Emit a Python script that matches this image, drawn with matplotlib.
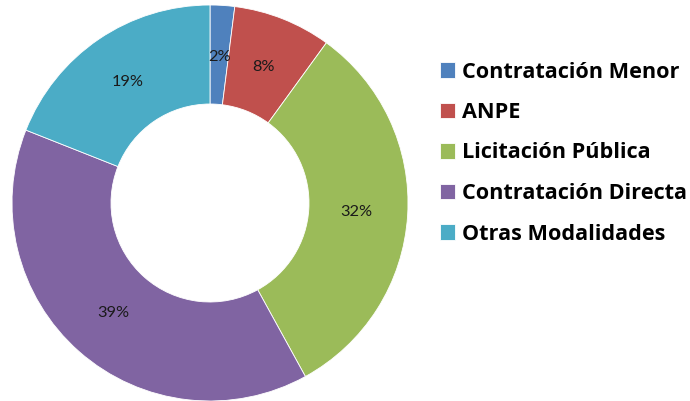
import matplotlib
matplotlib.use("Agg")
import matplotlib.pyplot as plt

categories = ["Contratación Menor", "ANPE", "Licitación Pública", "Contratación Directa", "Otras Modalidades"]
values = [2, 8, 32, 39, 19]
colors = ["#4F81BD", "#C0504D", "#9BBB59", "#8064A2", "#4BACC6"]

fig = plt.figure(figsize=(6.9, 4.01), dpi=100)
cx, cy, r = 210, 203, 198
ax = fig.add_axes([(cx - r) / 690, (401 - cy - r) / 401, 2 * r / 690, 2 * r / 401])
wedges, texts, autotexts = ax.pie(
    values, colors=colors, startangle=90, counterclock=False,
    autopct=lambda p: f"{p:.0f}%", pctdistance=0.74, radius=1.0,
    wedgeprops=dict(width=0.5, edgecolor="white", linewidth=0.6),
    textprops=dict(fontsize=11.8, color="#1a1a1a", family="Lato"))
ax.set_xlim(-1, 1)
ax.set_ylim(-1, 1)
ax.set_aspect("equal")
ax.axis("off")

leg = fig.legend(wedges, categories, loc="upper left", bbox_to_anchor=(420 / 690, 1 - 42 / 401),
                 frameon=False, prop=dict(family="Open Sans", weight="bold", size=15.6),
                 handlelength=0.72, handleheight=0.72, handletextpad=0.3, labelspacing=0.9,
                 borderpad=0.4)
fig.savefig("out.png", dpi=100)
